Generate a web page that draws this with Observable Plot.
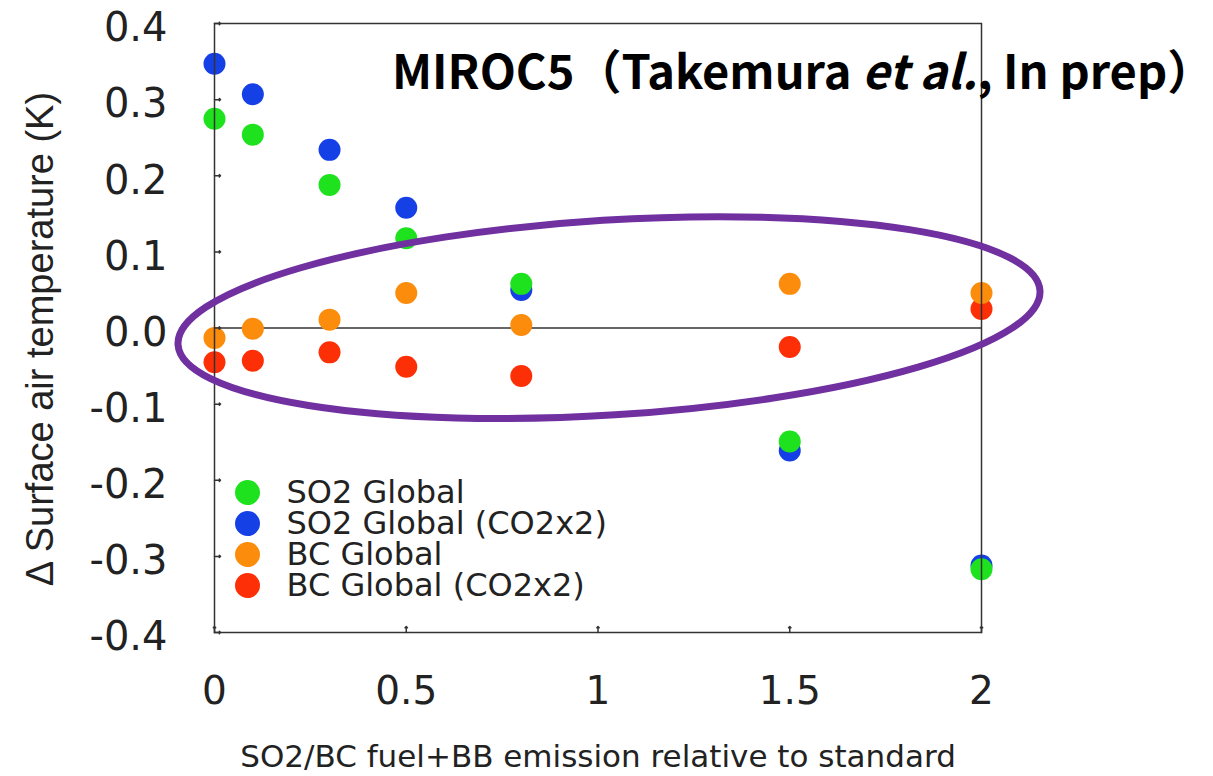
<!DOCTYPE html>
<html>
<head>
<meta charset="utf-8">
<script src="https://cdn.jsdelivr.net/npm/d3@7"></script>
<script src="https://cdn.jsdelivr.net/npm/@observablehq/plot@0.6"></script>
<style>
  html, body { margin: 0; padding: 0; background: #fff; }
  #wrap { position: relative; width: 1213px; height: 776px; overflow: hidden; }
  #title {
    position: absolute; left: 392px; top: 45px; line-height: 1;
    font-family: "Noto Sans CJK JP", "Noto Sans", sans-serif; font-weight: 700;
    font-size: 47px; letter-spacing: 0px; color: #000; white-space: nowrap;
  }
</style>
</head>
<body>
<div id="wrap">
  <div id="chart"></div>
  <div id="title">MIROC5（Takemura <i>et al.</i>, In prep）</div>
</div>
<script>
// ---- data ----
const emission = [0, 0.1, 0.3, 0.5, 0.8, 1.5, 2];
const so2Global      = [0.275, 0.254, 0.188, 0.118, 0.058, -0.149, -0.317];
const so2GlobalCO2x2 = [0.347, 0.307, 0.234, 0.158, 0.050, -0.161, -0.312];
const bcGlobal       = [-0.013, -0.001, 0.011, 0.046, 0.004, 0.058, 0.046];
const bcGlobalCO2x2  = [-0.045, -0.043, -0.032, -0.051, -0.063, -0.025, 0.025];

const seriesNames = ["SO2 Global", "SO2 Global (CO2x2)", "BC Global", "BC Global (CO2x2)"];
const seriesColors = ["#1fe21f", "#1540e6", "#fb8c0c", "#fd2f06"];
const seriesValues = [so2Global, so2GlobalCO2x2, bcGlobal, bcGlobalCO2x2];

const xTicks = [0, 0.5, 1, 1.5, 2];
const xTickLabels = ["0", "0.5", "1", "1.5", "2"];
const yTicks = [-0.4, -0.3, -0.2, -0.1, 0, 0.1, 0.2, 0.3, 0.4];
const yTickLabels = ["-0.4", "-0.3", "-0.2", "-0.1", "0.0", "0.1", "0.2", "0.3", "0.4"];

const xLabel = "SO2/BC fuel+BB emission relative to standard";
const yLabel = "Δ Surface air temperature (K)";

// highlight ellipse (annotation), in data units
const ellipse = {cx: 1.030, cy: 0.013, rx: 1.126, ry: 0.128, angle: -3.6};

// ---- table ----
const rows = [];
seriesNames.forEach((name, s) => {
  emission.forEach((x, i) => rows.push({series: name, x, y: seriesValues[s][i]}));
});
// drawing order: blue under green, red under orange
const drawOrder = [1, 0, 3, 2];

function ellipseMark(index, scales) {
  const x = scales.x, y = scales.y;
  const cx = x(ellipse.cx), cy = y(ellipse.cy);
  const rx = x(ellipse.cx + ellipse.rx) - cx;
  const ry = cy - y(ellipse.cy + ellipse.ry);
  const ns = "http://www.w3.org/2000/svg";
  const el = document.createElementNS(ns, "ellipse");
  el.setAttribute("cx", cx);
  el.setAttribute("cy", cy);
  el.setAttribute("rx", rx);
  el.setAttribute("ry", ry);
  el.setAttribute("transform", `rotate(${ellipse.angle} ${cx} ${cy})`);
  el.setAttribute("fill", "none");
  el.setAttribute("stroke", "#7030a0");
  el.setAttribute("stroke-width", 7);
  return el;
}

const legendMarks = [];
seriesNames.forEach((name, i) => {
  legendMarks.push(Plot.dot([name], {frameAnchor: "bottom-left", dx: 33, dy: -140 + 31 * i, r: 12.5, fill: seriesColors[i], stroke: "none"}));
  legendMarks.push(Plot.text([name], {frameAnchor: "bottom-left", dx: 72, dy: -140 + 31 * i, text: d => d, textAnchor: "start", lineAnchor: "middle", fontSize: 32, fill: "#222"}));
});

const chart = Plot.plot({
  width: 1213,
  height: 776,
  marginLeft: 214,
  marginRight: 232,
  marginTop: 23,
  marginBottom: 144,
  style: {fontFamily: "DejaVu Sans", background: "#fff", color: "#222", overflow: "visible"},
  x: {domain: [0, 2]},
  y: {domain: [-0.4, 0.4]},
  marks: [
    Plot.ruleY([0], {stroke: "#333", strokeWidth: 1.5}),
    ...drawOrder.map(s => Plot.dot(rows.filter(d => d.series === seriesNames[s]), {x: "x", y: "y", r: 11, fill: seriesColors[s], stroke: "none"})),
    Plot.frame({stroke: "#333", strokeWidth: 1.5}),
    Plot.vector(yTicks, {x: () => 0, y: d => d, length: 6, rotate: 90, anchor: "start", stroke: "#333", strokeWidth: 1.5}),
    Plot.vector(xTicks, {x: d => d, y: () => -0.4, length: 6, rotate: 0, anchor: "start", stroke: "#333", strokeWidth: 1.5}),
    Plot.axisY(yTicks, {anchor: "left", tickSize: 0, tickPadding: 47, tickFormat: (d, i) => yTickLabels[yTicks.indexOf(d)], fontSize: 40, dy: 5, label: null, fill: "#222"}),
    Plot.axisX(xTicks, {anchor: "bottom", tickSize: 0, tickPadding: 44, tickFormat: d => xTickLabels[xTicks.indexOf(d)], fontSize: 39, label: null, fill: "#222"}),
    Plot.text([xLabel], {frameAnchor: "bottom", dy: 125, text: d => d, lineAnchor: "middle", fontSize: 31, fill: "#222"}),
    Plot.text([yLabel], {frameAnchor: "left", rotate: -90, dx: -174, dy: 11, text: d => d, textAnchor: "middle", lineAnchor: "middle", fontSize: 38, fontFamily: "Liberation Sans", fill: "#222"}),
    ...legendMarks,
    ellipseMark
  ]
});
document.getElementById("chart").appendChild(chart);
</script>
</body>
</html>
